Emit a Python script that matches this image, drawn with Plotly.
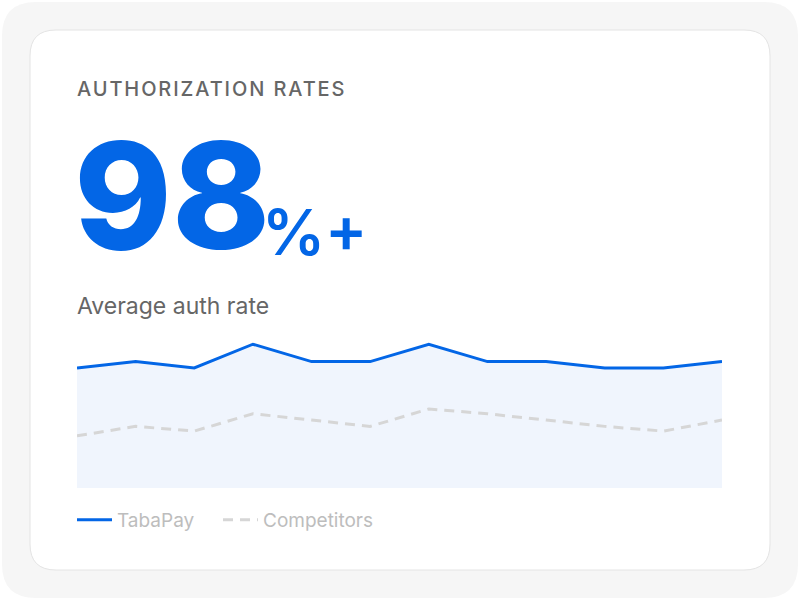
import plotly.graph_objects as go

# data
periods = list(range(1, 13))
tabapay = [97.6, 98.0, 97.6, 99.1, 98.0, 98.0, 99.1, 98.0, 98.0, 97.6, 97.6, 98.0]
competitors = [93.3, 93.9, 93.6, 94.7, 94.3, 93.9, 95.0, 94.7, 94.3, 93.9, 93.6, 94.3]

BLUE = "#0366e6"
GREY_LINE = "#d6d6d6"
FILL = "#f0f5fd"
TEXT = "#666666"
LEGEND_TEXT = "#bdbdbd"

W, H = 800, 600
PL, PR, PT, PB = 77, 722, 330, 488   # plot area in pixels


def px(x):
    return (x - PL) / (PR - PL)


def py(y):
    return (PB - y) / (PB - PT)


def rounded(x0, y0, x1, y1, r):
    # rounded rectangle path in paper coords
    X0, X1 = px(x0), px(x1)
    Y0, Y1 = py(y0), py(y1)
    rx = r / (PR - PL)
    ry = r / (PB - PT)
    return (f"M {X0 + rx},{Y0} L {X1 - rx},{Y0} Q {X1},{Y0} {X1},{Y0 - ry} "
            f"L {X1},{Y1 + ry} Q {X1},{Y1} {X1 - rx},{Y1} "
            f"L {X0 + rx},{Y1} Q {X0},{Y1} {X0},{Y1 + ry} "
            f"L {X0},{Y0 - ry} Q {X0},{Y0} {X0 + rx},{Y0} Z")


fig = go.Figure()

fig.add_trace(go.Scatter(x=periods, y=tabapay, mode="lines", fill="tozeroy",
                         fillcolor=FILL, line=dict(width=0, color=FILL),
                         showlegend=False, hoverinfo="skip"))
fig.add_trace(go.Scatter(x=periods, y=tabapay, mode="lines", name="TabaPay",
                         line=dict(color=BLUE, width=3), legend="legend"))
fig.add_trace(go.Scatter(x=periods, y=competitors, mode="lines",
                         name="Competitors", legend="legend2",
                         line=dict(color=GREY_LINE, width=3, dash="10px,7px")))

shapes = [
    dict(type="path", xref="paper", yref="paper", layer="below",
         path=rounded(2, 2, 798, 598, 34), fillcolor="#f6f6f6",
         line=dict(width=0)),
    dict(type="path", xref="paper", yref="paper", layer="below",
         path=rounded(30, 30, 770, 570, 26), fillcolor="white",
         line=dict(color="#e4e4e4", width=1)),
]

annotations = [
    dict(text="<span style='letter-spacing:1.9px'>AUTHORIZATION RATES</span>",
         x=px(75), y=py(89), xref="paper",
         yref="paper", xanchor="left", yanchor="middle", showarrow=False,
         font=dict(family="Inter", size=20, color=TEXT, weight=500)),
    dict(text="98", x=px(72), y=py(287), xref="paper", yref="paper",
         xanchor="left", yanchor="bottom", showarrow=False,
         font=dict(family="Inter", size=148, color=BLUE, weight=800)),
    dict(text="%", x=px(260), y=py(272), xref="paper", yref="paper",
         xanchor="left", yanchor="bottom", showarrow=False,
         font=dict(family="Inter", size=63, color=BLUE, weight=600)),
    dict(text="+", x=px(323), y=py(269), xref="paper", yref="paper",
         xanchor="left", yanchor="bottom", showarrow=False,
         font=dict(family="Inter", size=63, color=BLUE, weight=600)),
    dict(text="Average auth rate", x=px(75), y=py(306), xref="paper",
         yref="paper", xanchor="left", yanchor="middle", showarrow=False,
         font=dict(family="Inter", size=23, color=TEXT)),
]

legend_common = dict(orientation="h", yanchor="middle", xanchor="left",
                     bgcolor="rgba(0,0,0,0)", itemwidth=35,
                     font=dict(family="Inter", size=19, color=LEGEND_TEXT))

fig.update_layout(
    width=W, height=H,
    margin=dict(l=PL, r=W - PR, t=PT, b=H - PB, pad=0),
    paper_bgcolor="white", plot_bgcolor="rgba(0,0,0,0)",
    shapes=shapes, annotations=annotations,
    xaxis=dict(range=[1, 12], visible=False, fixedrange=True),
    yaxis=dict(range=[90, 100], visible=False, fixedrange=True),
    showlegend=True,
    legend=dict(x=px(72), y=py(520), **legend_common),
    legend2=dict(x=px(218), y=py(520), **legend_common),
    hovermode=False,
)

fig.write_html("out.html", config={"displayModeBar": False},
               post_script="document.body.style.margin='0px';")
